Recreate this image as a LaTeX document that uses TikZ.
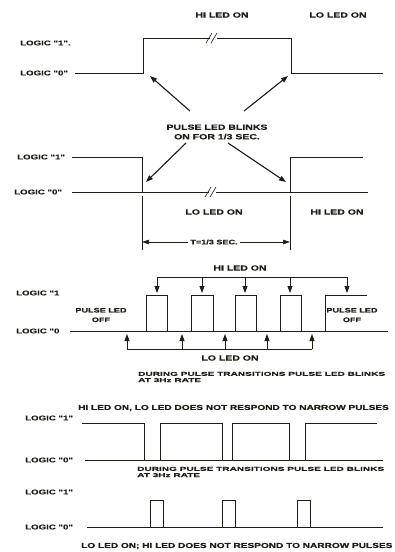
\documentclass[tikz,border=0pt]{standalone}
\usepackage{fontspec}
\newfontfamily\wf{Liberation Sans Bold}[FakeStretch=1.4,FakeBold=0.6]
\newfontfamily\wfs{Liberation Sans Bold}[FakeStretch=1.8,FakeBold=0.4]
\usetikzlibrary{arrows.meta}
\definecolor{ink}{RGB}{30,30,22}
\begin{document}
\begin{tikzpicture}[x=1pt,y=-1pt,
  wave/.style={line width=0.8pt,line join=miter,draw=ink},
  lbl/.style={font=\wf\fontsize{7.5}{8.5}\selectfont,inner sep=0pt,text=ink},
  lbls/.style={font=\wf\fontsize{6.5}{7.5}\selectfont,inner sep=0pt,text=ink},
  long/.style={font=\wf\fontsize{7.2}{8}\selectfont,inner sep=0pt,text=ink,anchor=west},
  lgc/.style={font=\wf\fontsize{6.9}{8}\selectfont,inner sep=0pt,anchor=west,text=ink},
  small/.style={font=\wfs\fontsize{5.6}{6.2}\selectfont,inner sep=0pt,anchor=west,align=left,text=ink},
  arr/.style={line width=1.1pt,draw=ink,fill=ink,-{Triangle[length=7pt,width=5pt]}},
  thin/.style={line width=0.6pt,draw=ink}]
\useasboundingbox (0,0) rectangle (394,552);
% ---------- section 1
\node[lbl] (s1hi) at (222,15) {HI LED ON};
\node[lbl] (s1lo) at (338,15) {LO LED ON};
\node[lgc] (s1l1) at (20,43) {LOGIC "1".};
\node[lgc] (s1l0) at (20,73) {LOGIC "0"};
\draw[wave] (75,73) -- (143,73) -- (143,38) -- (291,38) -- (291,73) -- (383,73);
\fill[white] (210,36) rectangle (217,40);
\draw[thin] (206,43) -- (212,33);
\draw[thin] (211,43) -- (217,33);
\node[lbl,align=center] (s1txt) at (217,132) {PULSE LED BLINKS\\[1pt]ON FOR 1/3 SEC.};
\coordinate (s1a) at (190,111); \coordinate (s1at) at (150,76);
\coordinate (s1b) at (244,111); \coordinate (s1bt) at (288,76);
\draw[arr] (s1a) -- (s1at);
\draw[arr] (s1b) -- (s1bt);
% ---------- section 2
\node[lgc] (s2l1) at (17,157) {LOGIC "1"};
\node[lgc] (s2l0) at (14,192) {LOGIC "0"};
\draw[wave] (72,157) -- (142,157) -- (142,192);
\draw[wave] (72,192) -- (368,192);
\draw[wave] (290,192) -- (290,157) -- (363,157);
\fill[white] (209,190) rectangle (216,194);
\draw[thin] (205,197) -- (211,187);
\draw[thin] (210,197) -- (216,187);
\coordinate (s2a) at (186,143); \coordinate (s2at) at (146,182);
\coordinate (s2b) at (228,143); \coordinate (s2bt) at (286,182);
\draw[arr] (s2a) -- (s2at);
\draw[arr] (s2b) -- (s2bt);
\draw[thin] (142,196) -- (142,250);
\draw[thin] (290,196) -- (290,250);
\node[lbl] (s2lo) at (214,212) {LO LED ON};
\node[lbl] (s2hi) at (337,212) {HI LED ON};
\coordinate (s2tl) at (142,242); \coordinate (s2tr) at (290,242);
\draw[thin,fill=ink,{Triangle[length=7pt,width=4.5pt]}-{Triangle[length=7pt,width=4.5pt]}] (s2tl) -- (s2tr);
\node[lbls,fill=white,inner xsep=2pt] (s2t) at (214,242) {T=1/3 SEC.};
% ---------- section 3
\node[lbl] (s3hi) at (240,268) {HI LED ON};
\draw[wave] (157,277) -- (347,277);
\foreach \x/\n in {157/a,202/b,245/c,290/d,347/e}{
  \coordinate (s3u\n) at (\x,277); \coordinate (s3d\n) at (\x,293);
  \draw[arr,line width=0.8pt] (s3u\n) -- (s3d\n);}
\node[lgc] (s3l1) at (16,293) {LOGIC "1};
\node[lgc] (s3l0) at (16,331) {LOGIC "0};
\draw[wave] (70,331) -- (388,331);
\foreach \a/\b in {146/167,191/213,235/256,280/301}{
  \draw[wave] (\a,331) -- (\a,295) -- (\b,295) -- (\b,331);}
\draw[wave] (325,331) -- (325,295) -- (367,295);
\node[lbls,align=center] (s3pl) at (101,315) {PULSE LED\\[2pt]OFF};
\node[lbls,align=center] (s3pr) at (352,315) {PULSE LED\\[2pt]OFF};
\draw[wave] (127,349) -- (312,349);
\foreach \x/\n in {127/a,182/b,225/c,267/d,312/e}{
  \coordinate (s3lu\n) at (\x,349); \coordinate (s3ld\n) at (\x,334);
  \draw[arr,line width=0.8pt] (s3lu\n) -- (s3ld\n);}
\node[lbl] (s3lo) at (230,358) {LO LED ON};
\node[small] (s3sm) at (138,377) {DURING PULSE TRANSITIONS PULSE LED BLINKS\\AT 3Hz RATE};
% ---------- section 4
\node[long] (s4t) at (78,408) {HI LED ON, LO LED DOES NOT RESPOND TO NARROW PULSES};
\node[lgc] (s4l1) at (25,418) {LOGIC "1"};
\node[lgc] (s4l0) at (25,460) {LOGIC "0"};
\draw[wave] (85,460) -- (383,460);
\draw[wave] (82,423) -- (144,423) -- (144,460);
\draw[wave] (160,460) -- (160,423) -- (222,423) -- (222,460);
\draw[wave] (232,460) -- (232,423) -- (289,423) -- (289,460);
\draw[wave] (305,460) -- (305,423) -- (377,423);
\node[small] (s4sm) at (137,472) {DURING PULSE TRANSITIONS PULSE LED BLINKS\\AT 3Hz RATE};
% ---------- section 5
\node[lgc] (s5l1) at (25,492) {LOGIC "1"};
\node[lgc] (s5l0) at (25,527) {LOGIC "0"};
\draw[wave] (87,527) -- (383,527);
\foreach \a/\b in {150/163,222/235,297/310}{
  \draw[wave] (\a,527) -- (\a,500) -- (\b,500) -- (\b,527);}
\node[long] (s5t) at (81,546) {LO LED ON; HI LED DOES NOT RESPOND TO NARROW PULSES};
\end{tikzpicture}
\end{document}
